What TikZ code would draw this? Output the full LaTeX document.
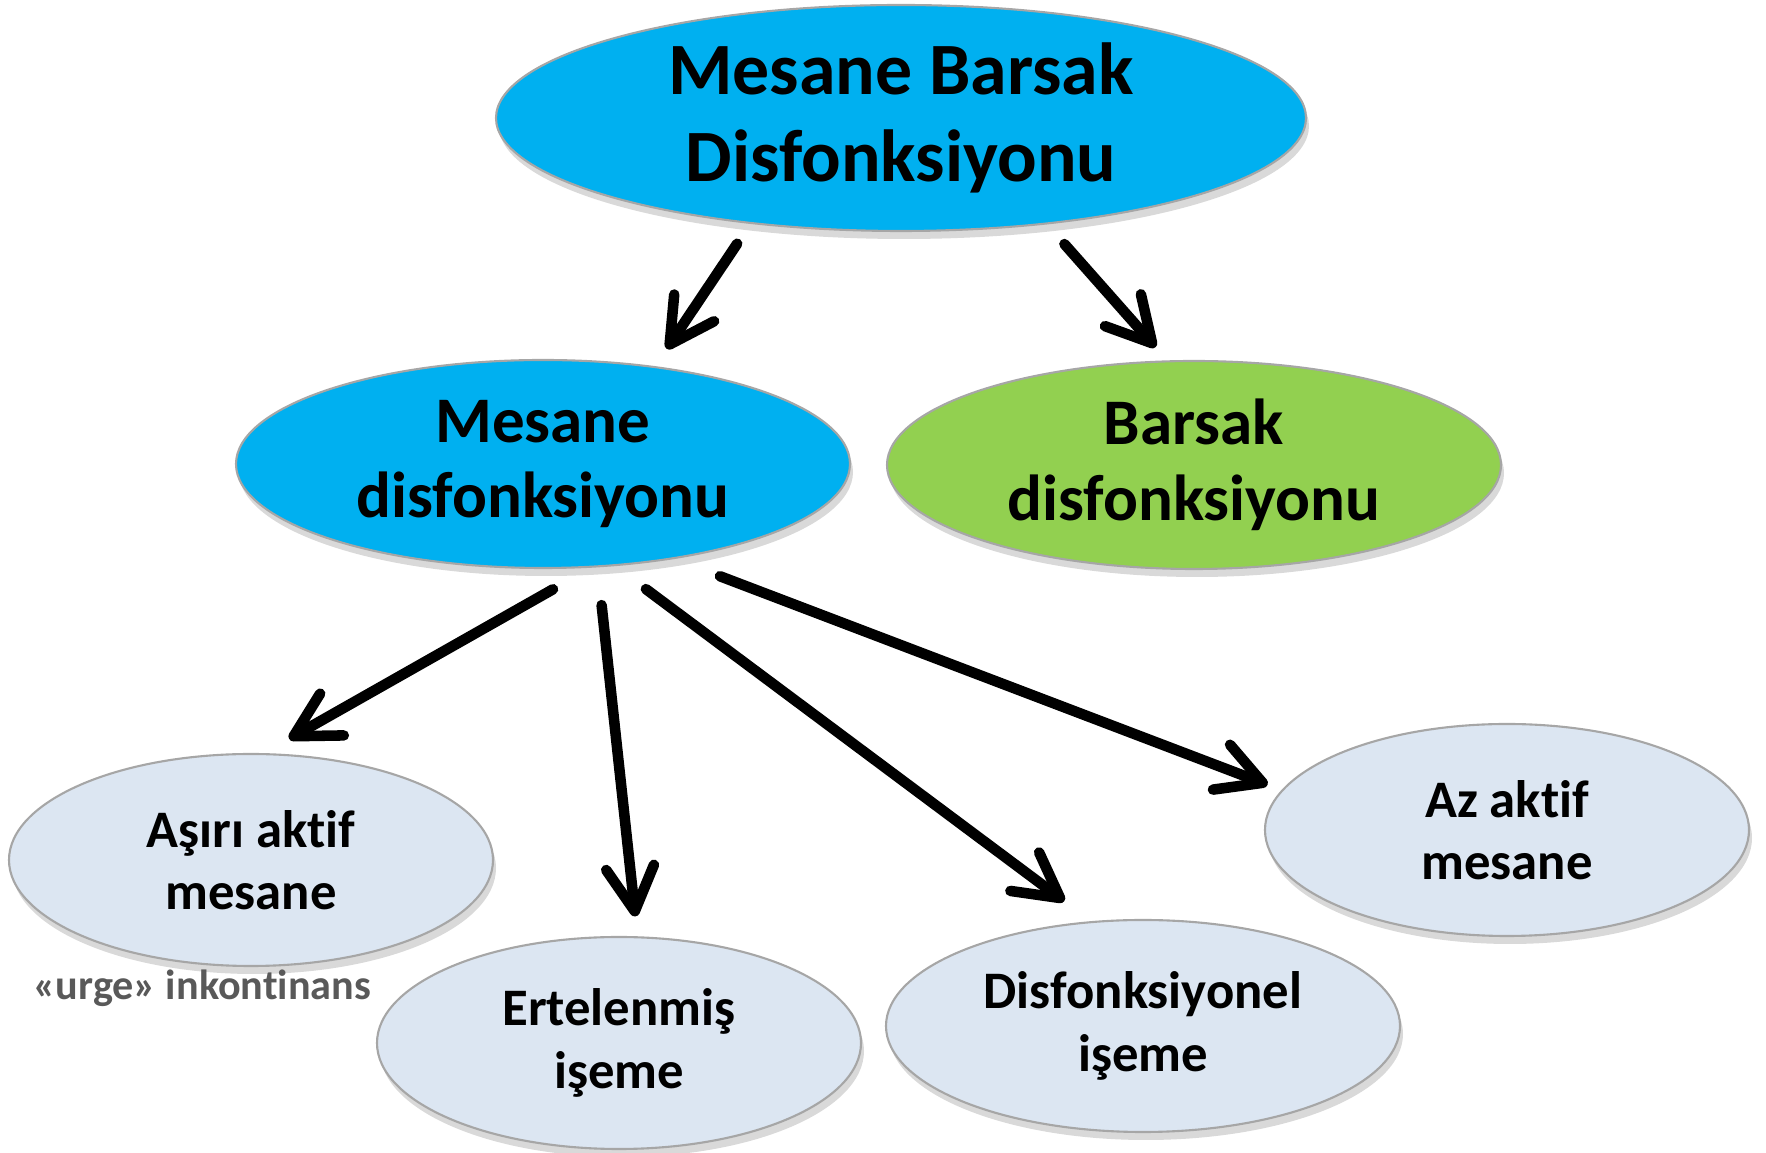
\documentclass[tikz,border=0pt]{standalone}
\usepackage{fontspec}
\setmainfont{Carlito}[Ligatures=NoCommon]
\usepackage{tikz}
\usetikzlibrary{shapes.geometric,positioning,calc,arrows.meta,shadows}
\definecolor{cyanfill}{HTML}{00B0F0}
\definecolor{greenfill}{HTML}{92D050}
\definecolor{leaffill}{HTML}{DCE6F2}
\definecolor{notegray}{HTML}{595959}

\begin{document}
\begin{tikzpicture}[>={Straight Barb[length=4.4mm,width=4.8mm,round]}, line width=3pt, line cap=round]
		\tikzstyle{blob}=[ellipse,draw=black!35,line width=0.6pt,inner sep=0pt,outer sep=0pt,align=center,text=black,
		drop shadow={shadow xshift=0.3mm,shadow yshift=-0.8mm,opacity=0.3}]
		\tikzstyle{topblob}=[blob,fill=cyanfill,minimum width=8.1cm,minimum height=2.26cm,font=\fontsize{21}{24.7}\selectfont\bfseries]
		\tikzstyle{midblob}=[blob,minimum width=6.14cm,minimum height=2.08cm,font=\fontsize{18.5}{21.5}\selectfont\bfseries]
		\tikzstyle{leafblob}=[blob,fill=leaffill,minimum width=4.84cm,minimum height=2.12cm,font=\fontsize{15}{17.8}\selectfont\bfseries]
		\useasboundingbox (0,0) rectangle (17.66,-11.53);
		\begin{scope}
			\node[topblob] (mbd) at (9.01,-1.18) {Mesane Barsak\\Disfonksiyonu};
			\node[midblob,fill=cyanfill] (md) at ($(mbd)+(-3.58,-3.46)$) {Mesane\\disfonksiyonu};
			\node[midblob,fill=greenfill] (bd) at ($(mbd)+(2.93,-3.47)$) {Barsak\\disfonksiyonu};
			\node[leafblob] (aam) at ($(md)+(-2.92,-3.96)$) {Aşırı aktif\\mesane};
			\node[leafblob] (ei) at ($(md)+(0.76,-5.79)$) {Ertelenmiş\\işeme};
			\node[leafblob,minimum width=5.14cm] (di) at ($(bd)+(-0.51,-5.61)$) {Disfonksiyonel\\işeme};
			\node[leafblob] (az) at ($(bd)+(3.13,-3.65)$) {Az aktif\\mesane};
			\node[anchor=base,inner sep=0pt,text=notegray,font=\fontsize{12}{14}\selectfont\bfseries] (urge)
			at ($(aam)+(-0.49,-1.40)$) {«urge» inkontinans};

			\draw[->,shorten <=2.5mm,shorten >=2.2mm] (mbd.215.3) -- (md.41.6);
			\draw[->,shorten <=2.75mm,shorten >=1.9mm] (mbd.324.7) -- (bd.104.8);
			\draw[->,shorten <=4.6mm,shorten >=3.1mm] (md.296.9) -- (aam.84);
			\draw[->,shorten <=3.9mm,shorten >=2.1mm] (md.298.8) -- (ei.80.8);
			\draw[->,shorten <=4mm,shorten >=3.5mm] (md.305.9) -- (di.116.1);
			\draw[->,shorten <=5.05mm,shorten >=1.6mm] (md.324.5) -- (az.170.1);
		\end{scope}
	\end{tikzpicture}
\end{document}
